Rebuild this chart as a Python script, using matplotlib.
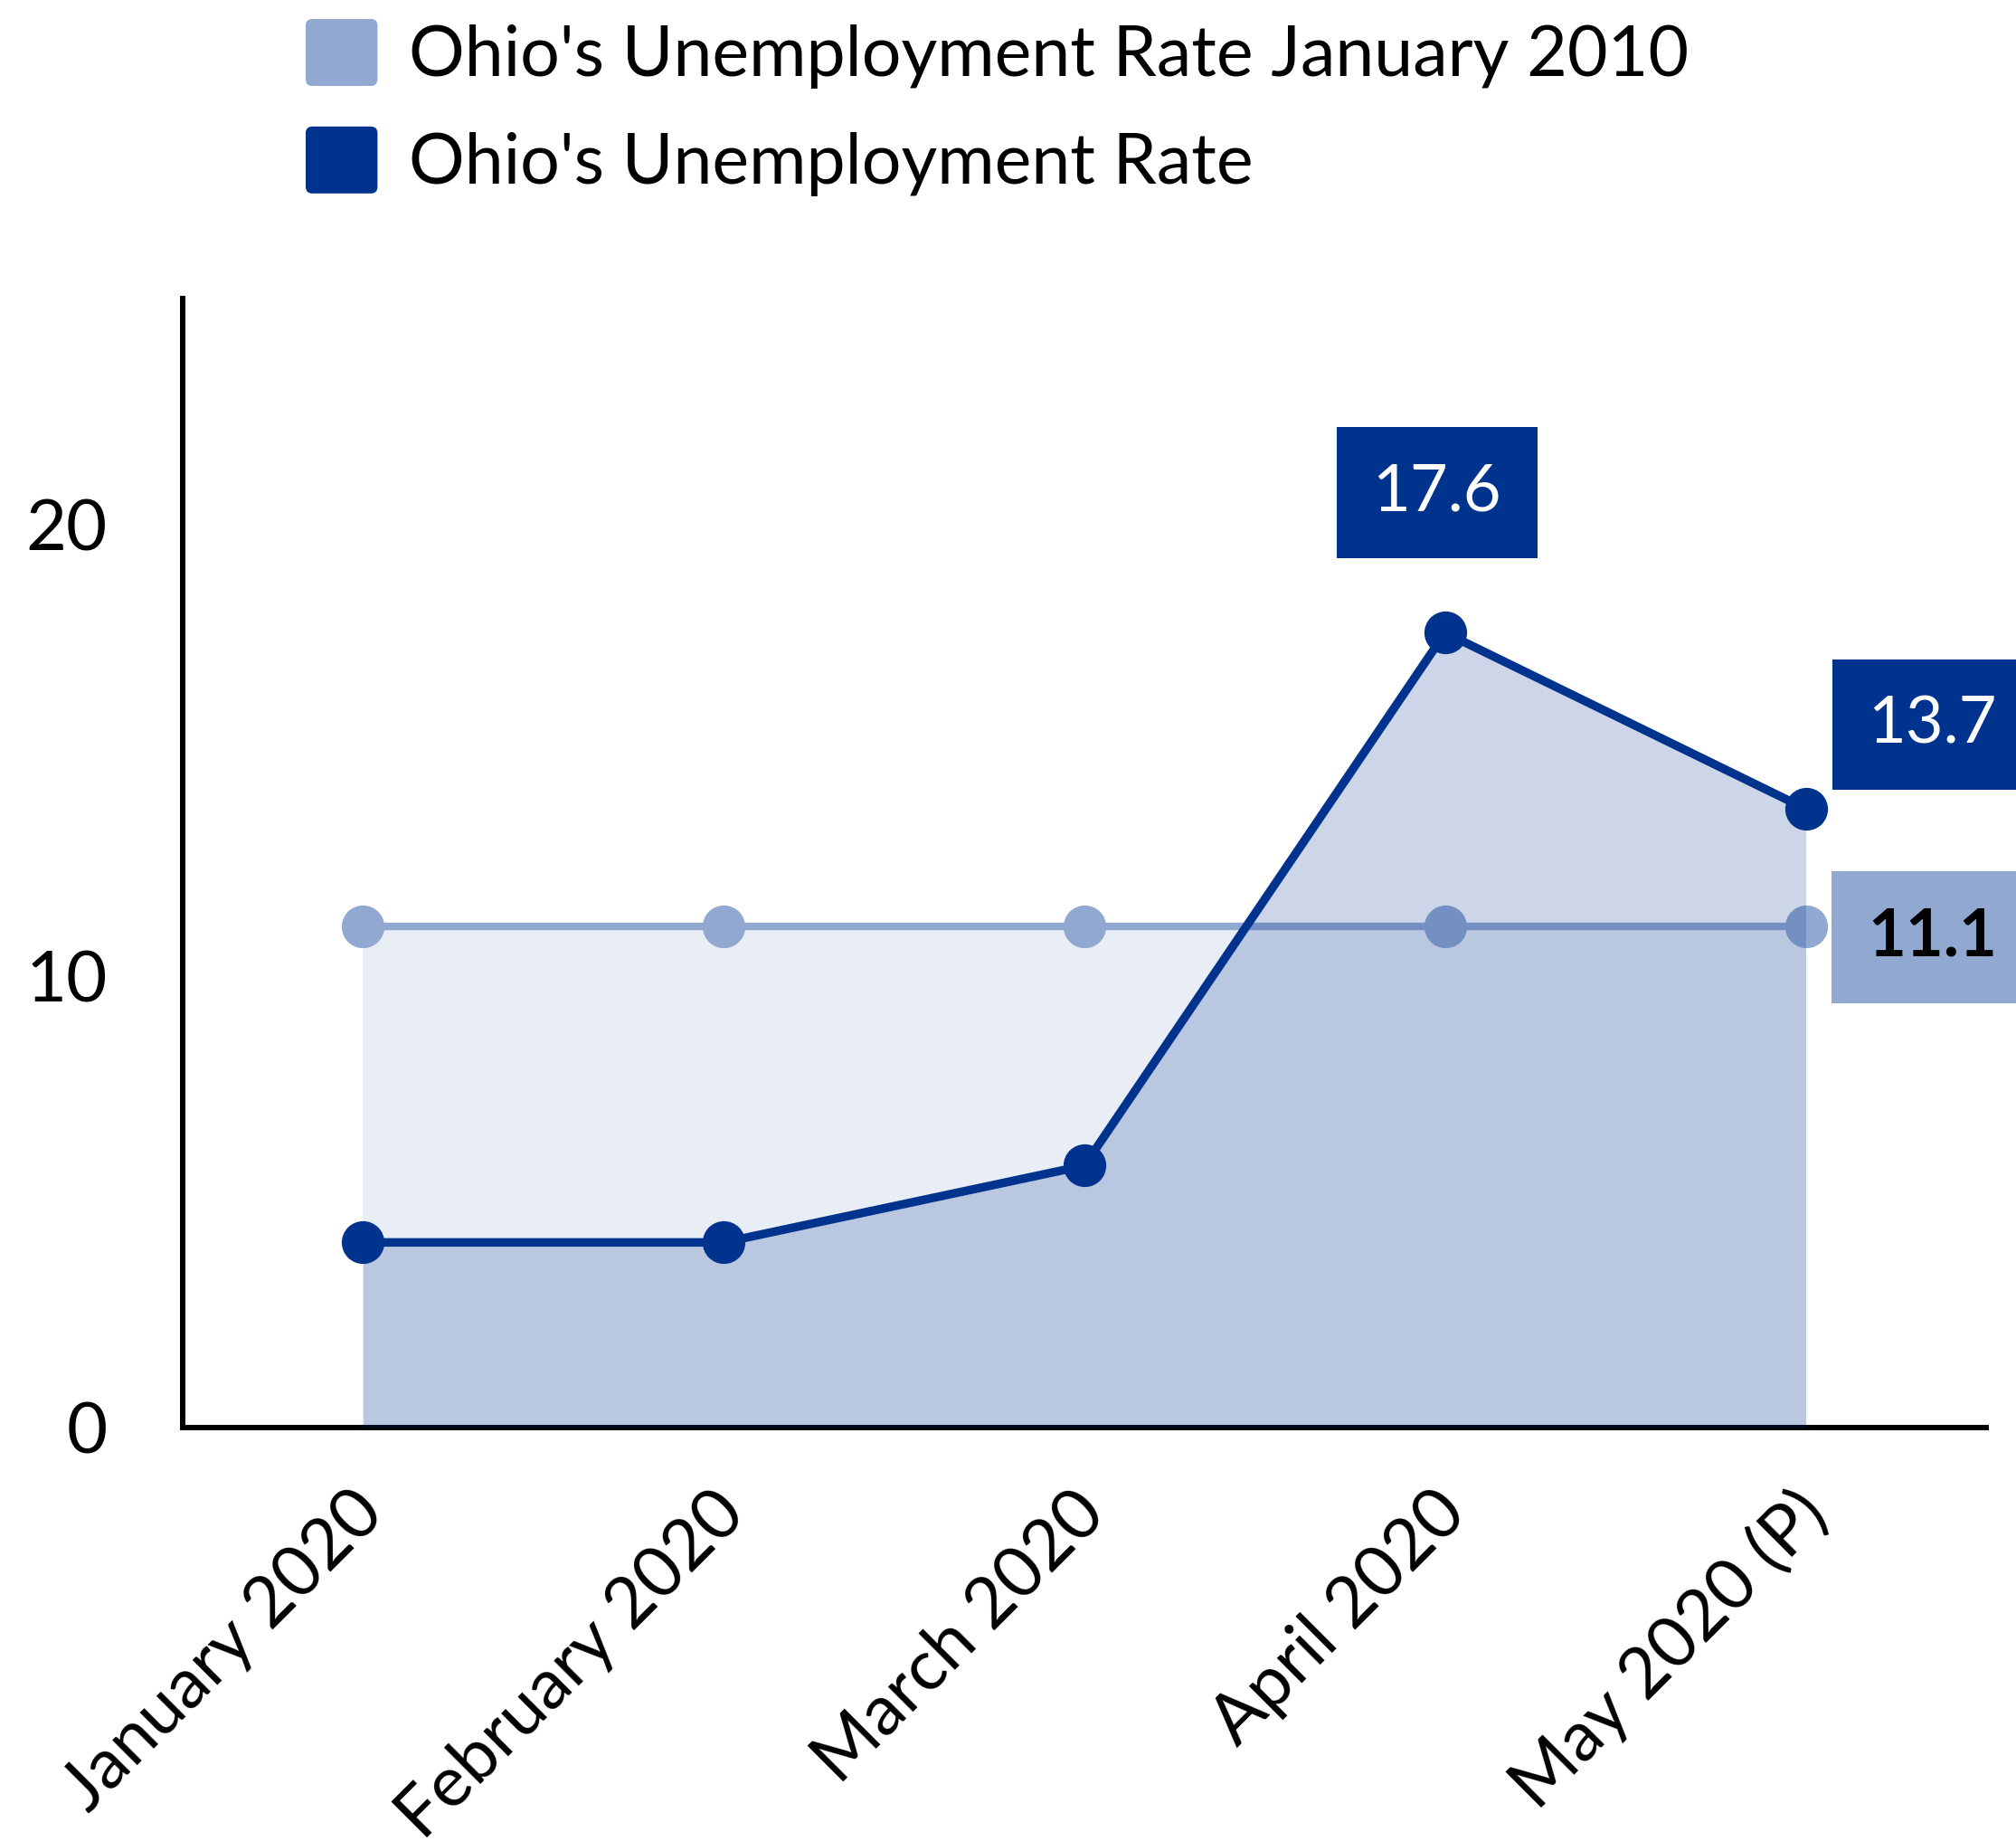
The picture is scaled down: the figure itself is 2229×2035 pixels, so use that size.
import matplotlib
matplotlib.use("Agg")
import matplotlib.pyplot as plt
from matplotlib.patches import Patch, FancyBboxPatch
from matplotlib.legend_handler import HandlerPatch
import matplotlib.transforms as mtransforms

plt.rcParams['font.family'] = ['Lato', 'DejaVu Sans']

months = ["January 2020", "February 2020", "March 2020", "April 2020", "May 2020 (P)"]
rate_2010 = [11.1, 11.1, 11.1, 11.1, 11.1]
rate_2020 = [4.1, 4.1, 5.8, 17.6, 13.7]
series_names = ["Ohio's Unemployment Rate January 2010", "Ohio's Unemployment Rate"]
yticks = [0, 10, 20]

DARK = '#00338d'
LIGHT = '#91a8d1'
FS_LEG = 55.5
FS_TICK = 56
FS_LAB = 52

fig = plt.figure(figsize=(22.29, 20.35), dpi=100)
ax = fig.add_axes([202/2229, 1 - 1578/2035, (2196-202)/2229, (1578-330)/2035])

x = list(range(len(months)))

ax.fill_between(x, 0, rate_2010, color=LIGHT, alpha=0.2, lw=0, zorder=1)
ax.plot(x, rate_2010, color=LIGHT, lw=6, marker='o', markersize=33, zorder=2)
ax.fill_between(x, 0, rate_2020, color=DARK, alpha=0.2, lw=0, zorder=3)
ax.plot(x, rate_2020, color=DARK, lw=6.8, marker='o', markersize=33, zorder=4)

ax.set_xlim(-0.5, 4.5)
ax.set_ylim(0, 25)
ax.set_yticks(yticks)
ax.set_yticklabels([str(v) for v in yticks], fontsize=FS_TICK)
ax.set_xticks(x)
ax.set_xticklabels(months, fontsize=FS_TICK, rotation=45, ha='right', va='center',
                   rotation_mode='anchor')
ax.tick_params(axis='y', length=0, pad=60)
ax.tick_params(axis='x', length=0, pad=60)
shift = mtransforms.ScaledTranslation(11/100, 0, fig.dpi_scale_trans)
for lbl in ax.get_xticklabels():
    lbl.set_transform(lbl.get_transform() + shift)

for s in ['top', 'right']:
    ax.spines[s].set_visible(False)
for s in ['left', 'bottom']:
    ax.spines[s].set_linewidth(4.3)
    ax.spines[s].set_color('black')

# data labels
bbox_dark = dict(boxstyle='square,pad=0.55', fc=DARK, ec='none')
bbox_light = dict(boxstyle='square,pad=0.55', fc=LIGHT, ec='none')
ax.annotate(f"{rate_2020[3]}", (x[3], rate_2020[3]), xytext=(-9, 155), textcoords='offset pixels',
            ha='center', va='center', fontsize=FS_LAB, color='white', bbox=bbox_dark, zorder=6)
ax.annotate(f"{rate_2020[4]}", (x[4], rate_2020[4]), xytext=(140, 93), textcoords='offset pixels',
            ha='center', va='center', fontsize=FS_LAB, color='white', bbox=bbox_dark, zorder=6,
            annotation_clip=False)
ax.annotate(f"{rate_2010[4]}", (x[4], rate_2010[4]), xytext=(140, -12), textcoords='offset pixels',
            ha='center', va='center', fontsize=FS_LAB, color='black', fontweight='bold', bbox=bbox_light,
            zorder=6, annotation_clip=False)


class RoundHandler(HandlerPatch):
    def create_artists(self, legend, orig_handle, xdescent, ydescent, width, height, fontsize, trans):
        p = FancyBboxPatch((-xdescent, -ydescent), width, height,
                           boxstyle=f'round,pad=0,rounding_size={0.1*height}',
                           fc=orig_handle.get_facecolor(), ec='none', transform=trans)
        return [p]


handles = [Patch(fc=LIGHT), Patch(fc=DARK)]
fig.legend(handles, series_names, loc='upper left', bbox_to_anchor=(338/2229, 1 - 21/2035),
           frameon=False, fontsize=FS_LEG, handlelength=1.03, handleheight=1.10, handletextpad=0.45,
           labelspacing=0.54, borderaxespad=0, borderpad=0,
           handler_map={Patch: RoundHandler()})

fig.savefig('out.png', dpi=100)
